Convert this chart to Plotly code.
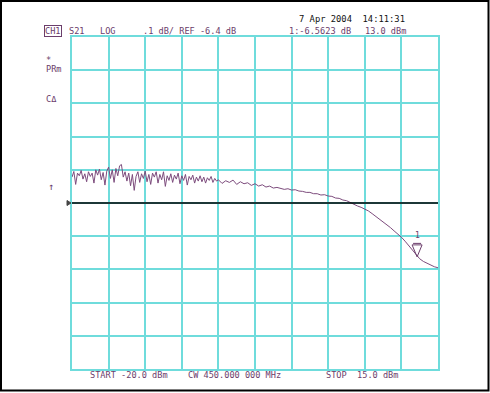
import plotly.graph_objects as go

# Power sweep (dBm) and S21 magnitude (dB)
power_dbm = [
    -20.000, -19.825, -19.650, -19.475, -19.300, -19.125, -18.950, -18.775, -18.600, -18.425,
    -18.250, -18.075, -17.900, -17.725, -17.550, -17.375, -17.200, -17.025, -16.850, -16.675,
    -16.500, -16.325, -16.150, -15.975, -15.800, -15.625, -15.450, -15.275, -15.100, -14.925,
    -14.750, -14.575, -14.400, -14.225, -14.050, -13.875, -13.700, -13.525, -13.350, -13.175,
    -13.000, -12.825, -12.650, -12.475, -12.300, -12.125, -11.950, -11.775, -11.600, -11.425,
    -11.250, -11.075, -10.900, -10.725, -10.550, -10.375, -10.200, -10.025, -9.850, -9.675,
    -9.500, -9.325, -9.150, -8.975, -8.800, -8.625, -8.450, -8.275, -8.100, -7.925,
    -7.750, -7.575, -7.400, -7.225, -7.050, -6.875, -6.700, -6.525, -6.350, -6.175,
    -6.000, -5.65, -5.30, -4.95, -4.60, -4.25, -3.90, -3.55, -3.20, -2.85,
    -2.50, -2.15, -1.80, -1.45, -1.10, -0.75, -0.40, -0.05, 0.30, 0.65,
    1.00, 1.35, 1.70, 2.05, 2.40, 2.75, 3.10, 3.45, 3.80, 4.15,
    4.50, 4.85, 5.20, 5.55, 5.90, 6.25, 6.60, 6.95, 7.30, 7.65,
    8.00, 8.35, 8.70, 9.05, 9.40, 9.75, 10.10, 10.45, 10.80, 11.15,
    11.50, 11.85, 12.20, 12.55, 12.90, 13.25, 13.60, 13.95, 14.30, 14.65,
    15.00,
]
s21_db = [
    -6.322, -6.305, -6.344, -6.310, -6.318, -6.302, -6.328, -6.312, -6.336, -6.306,
    -6.320, -6.310, -6.340, -6.300, -6.316, -6.298, -6.330, -6.308, -6.346, -6.304,
    -6.292, -6.326, -6.300, -6.338, -6.296, -6.318, -6.288, -6.284, -6.322, -6.306,
    -6.334, -6.310, -6.348, -6.314, -6.362, -6.320, -6.306, -6.338, -6.312, -6.326,
    -6.304, -6.336, -6.314, -6.344, -6.310, -6.322, -6.306, -6.340, -6.314, -6.330,
    -6.306, -6.350, -6.318, -6.332, -6.312, -6.338, -6.316, -6.328, -6.310, -6.342,
    -6.318, -6.332, -6.314, -6.346, -6.320, -6.330, -6.316, -6.340, -6.322, -6.334,
    -6.318, -6.336, -6.322, -6.340, -6.324, -6.332, -6.320, -6.338, -6.326, -6.334,
    -6.330, -6.341, -6.333, -6.338, -6.331, -6.344, -6.336, -6.342, -6.339, -6.347,
    -6.342, -6.349, -6.345, -6.352, -6.349, -6.355, -6.353, -6.356, -6.359, -6.357,
    -6.361, -6.360, -6.364, -6.365, -6.368, -6.368, -6.372, -6.372, -6.376, -6.375,
    -6.379, -6.380, -6.385, -6.386, -6.391, -6.393, -6.399, -6.403, -6.409, -6.413,
    -6.418, -6.424, -6.432, -6.440, -6.448, -6.456, -6.465, -6.474, -6.484, -6.493,
    -6.503, -6.515, -6.528, -6.542, -6.557, -6.568, -6.576, -6.582, -6.588, -6.592,
    -6.595,
]

x_start, x_stop, x_div = -20.0, 15.0, 3.5
ref_db, db_per_div = -6.4, 0.1
marker_x, marker_y = 13.0, -6.5623

grid = "#6fdcdc"
purple = "#6b3d6b"
font_mono = "DejaVu Sans Mono"

fig = go.Figure()
fig.add_trace(go.Scatter(x=power_dbm, y=s21_db, mode="lines",
                         line=dict(color="#7d4c7d", width=1), hoverinfo="skip"))

W, H = 490, 393
ml, mr, mt, mb = 72, 52, 37, 24
pw, ph = W - ml - mr, H - mt - mb

def px(xp):
    return (xp - ml) / pw

def py(yp):
    return 1 - (yp - mt) / ph

fig.update_layout(
    width=W, height=H,
    margin=dict(l=ml, r=mr, t=mt, b=mb),
    paper_bgcolor="white", plot_bgcolor="white",
    showlegend=False,
    xaxis=dict(range=[x_start, x_stop], dtick=x_div, tick0=x_start,
               showgrid=True, gridcolor=grid, gridwidth=2,
               showline=True, linecolor=grid, linewidth=2, mirror=True,
               showticklabels=False, ticks="", zeroline=False, fixedrange=True),
    yaxis=dict(range=[ref_db - 5 * db_per_div, ref_db + 5 * db_per_div],
               dtick=db_per_div, tick0=ref_db,
               showgrid=True, gridcolor=grid, gridwidth=2,
               showline=True, linecolor=grid, linewidth=2, mirror=True,
               showticklabels=False, ticks="", zeroline=False, fixedrange=True),
)

# reference line
fig.add_shape(type="line", xref="paper", yref="y", x0=0, x1=1, y0=ref_db, y1=ref_db,
              line=dict(color="black", width=1.5), layer="above")
# reference pointer at left
fig.add_shape(type="path", xref="paper", yref="y", xsizemode="pixel", ysizemode="pixel",
              xanchor=0, yanchor=ref_db,
              path="M-5,-2.5 L-5,2.5 L-1,0 Z",
              line=dict(color="#444444", width=1), fillcolor="#444444")

# marker 1 triangle
fig.add_shape(type="path", xref="x", yref="y", xsizemode="pixel", ysizemode="pixel",
              xanchor=marker_x, yanchor=marker_y,
              path="M-5,12 L5,12 L0,0 Z M-4,13.5 L4,13.5",
              line=dict(color=purple, width=1), layer="above")
fig.add_annotation(x=marker_x, y=marker_y, xref="x", yref="y", text="1",
                   showarrow=False, yshift=21, font=dict(family=font_mono, size=8, color=purple))

# outer border
fig.add_shape(type="rect", xref="paper", yref="paper",
              x0=px(1), x1=px(488.5), y0=py(390.5), y1=py(1),
              line=dict(color="black", width=2))

def txt(xp, yp, s, color=purple, size=8.6, anchor="left", border=None):
    kw = {}
    if border:
        kw = dict(bordercolor=border, borderwidth=1, borderpad=0)
    fig.add_annotation(x=px(xp), y=py(yp), xref="paper", yref="paper", text=s,
                       showarrow=False, xanchor=anchor, yanchor="middle",
                       font=dict(family=font_mono, size=size, color=color), **kw)

txt(44, 31, "CH1", border=purple)
txt(67, 31, "S21")
txt(98, 31, "LOG")
txt(141, 31, ".1 dB/ REF -6.4 dB")
txt(297, 19, "7 Apr 2004  14:11:31", color="#111111", size=8.8)
txt(287, 31, "1:-6.5623 dB")
txt(363, 31, "13.0 dBm")
txt(44, 60, "*")
txt(44, 69, "PRm")
txt(44, 99, "C\u0394")
txt(46, 186, "\u2191", size=10)
txt(88, 375, "START -20.0 dBm")
txt(186, 375, "CW 450.000 000 MHz")
txt(324, 375, "STOP  15.0 dBm")

fig.write_html("out.html", config={"displayModeBar": False},
               post_script="document.body.style.margin='0';")
